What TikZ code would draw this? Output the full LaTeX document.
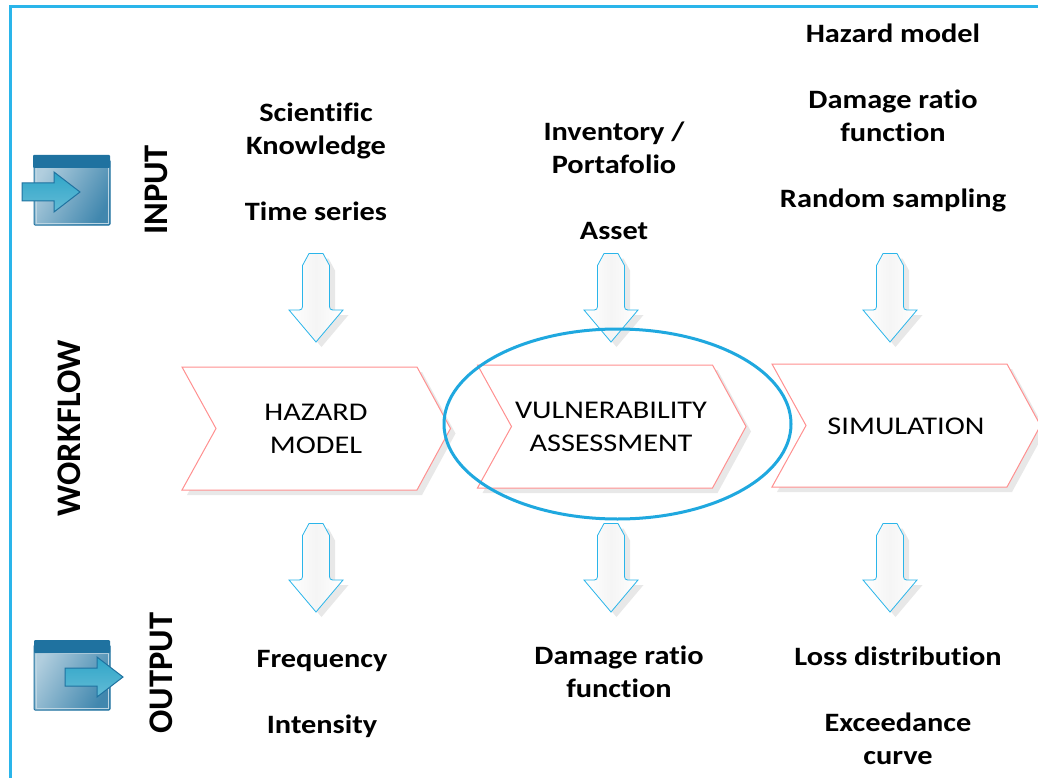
\documentclass[tikz,border=0pt]{standalone}
\usepackage{fontspec}
\setmainfont{Carlito}
\newfontfamily\datafont[FakeStretch=1.145,Ligatures=NoCommon]{Carlito}
\newfontfamily\stepfont[FakeStretch=1.19]{Carlito}
\usetikzlibrary{positioning}
\definecolor{framecol}{HTML}{2AB5EA}
\definecolor{ringcol}{HTML}{1FA8DF}
\definecolor{chevcol}{HTML}{FF9090}
\definecolor{shadowcol}{HTML}{E8E8E8}
\definecolor{barcol}{HTML}{1F72A0}
\definecolor{pointcol}{HTML}{2FA5C8}
\tikzset{
  datalabel/.style={align=center,font=\fontsize{26.5}{33}\datafont\bfseries,inner sep=0pt},
  sidelabel/.style={font=\fontsize{34.5}{33}\selectfont\bfseries,rotate=90,inner sep=0pt},
  steplabel/.style={align=center,font=\fontsize{25.5}{33}\stepfont,inner sep=0pt},
  iconbody/.style={draw=barcol,line width=1pt,left color=white!65!barcol,right color=barcol!85,shading angle=60},
  iconpoint/.style={draw=barcol,line width=1pt,top color=pointcol,bottom color=pointcol!75}
}
\begin{document}
\begin{tikzpicture}[x=1pt,y=-1pt]
\clip (0,0) rectangle (1038,778);
\fill[white] (0,0) rectangle (1038,778);
\draw[framecol,line width=3pt] (1040,7) -- (10,7) -- (10,780); % frame
% Chevrons
\foreach \cx/\cy in {182/367,477.5/365,772/364}{
\fill[shadowcol,shift={(\cx+5,\cy+5)}] (0,0) -- (235,0) -- (268.5,61.5) -- (235,123) -- (0,123) -- (34,61.5) -- cycle;
\draw[chevcol,fill=white,line width=1pt,shift={(\cx,\cy)}] (0,0) -- (235,0) -- (268.5,61.5) -- (235,123) -- (0,123) -- (34,61.5) -- cycle;
}
% Arrows
\foreach \ax/\ay in {316/253.5,611/253.5,890/253.5,316/523.5,611/523.5,890/523.5}{
\fill[shadowcol,shift={(\ax+5.5,\ay+5)}] (-13.5,12) -- (-7,0) -- (7,0) -- (13.5,12) -- (13.5,49) .. controls (13.5,56.5) .. (20,56.5) -- (27,56.5) -- (0,88.5) -- (-27,56.5) -- (-20,56.5) .. controls (-13.5,56.5) .. (-13.5,49) -- cycle;
\draw[framecol,line width=0.8pt,left color=white,right color=white,middle color=black!4,shift={(\ax,\ay)}] (-13.5,12) -- (-7,0) -- (7,0) -- (13.5,12) -- (13.5,49) .. controls (13.5,56.5) .. (20,56.5) -- (27,56.5) -- (0,88.5) -- (-27,56.5) -- (-20,56.5) .. controls (-13.5,56.5) .. (-13.5,49) -- cycle;
}
\draw[ringcol,line width=3pt] (617.5,424) ellipse [x radius=173.5pt,y radius=95pt]; % ring
% Input icon
\shade[iconbody,rounded corners=1pt] (34,160) rectangle (110,225);
\draw[white!70!barcol,line width=1pt] (36,168) rectangle (108,223);
\fill[barcol,rounded corners=1pt] (33,155) rectangle (110,168);
\draw[iconpoint] (22,183) -- (54,183) -- (54,172) -- (80,192) -- (54,212) -- (54,201) -- (22,201) -- cycle;
% Output icon
\shade[iconbody,rounded corners=1pt] (34,645) rectangle (110,710);
\draw[white!70!barcol,line width=1pt] (36,653) rectangle (108,708);
\fill[barcol,rounded corners=1pt] (34,640) rectangle (110,653);
\draw[iconpoint] (65,668) -- (97,668) -- (97,657) -- (123,677) -- (97,697) -- (97,686) -- (65,686) -- cycle;
% Labels
\node[sidelabel] (inputlabel) at (156,190) {INPUT};
\node[sidelabel] (workflowlabel) at (69,428) {WORKFLOW};
\node[sidelabel] (outputlabel) at (161,673) {OUTPUT};
\node[steplabel] (hazardstep) at (316,429) {HAZARD\\MODEL};
\node[steplabel] (vulnstep) at (611,426.5) {VULNERABILITY\\ASSESSMENT};
\node[steplabel] (simstep) at (906,426.5) {SIMULATION};
\node[datalabel] (hazardin) at (316,162) {Scientific\\Knowledge\\[33pt]Time series};
\node[datalabel] (vulnin) at (614,180.5) {Inventory /\\Portafolio\\[33pt]Asset};
\node[datalabel] (simin) at (893,118) {Hazard model\\[33pt]Damage ratio\\function\\[33pt]Random sampling};
\node[datalabel] (hazardout) at (322,694) {Frequency\\[33pt]Intensity};
\node[datalabel] (vulnout) at (619,672) {Damage ratio\\function};
\node[datalabel] (simout) at (898,706) {Loss distribution\\[33pt]Exceedance\\curve};
\end{tikzpicture}
\end{document}
